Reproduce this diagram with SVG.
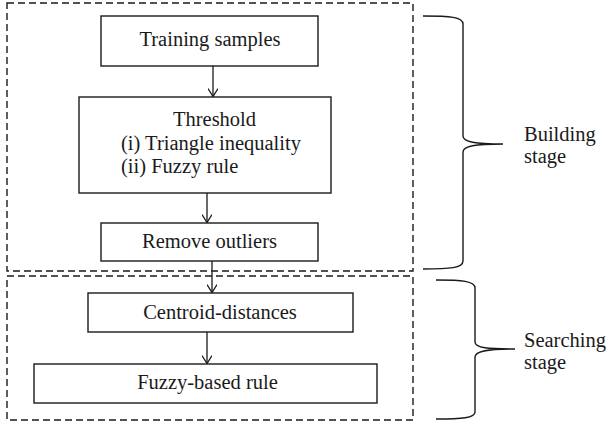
<svg xmlns="http://www.w3.org/2000/svg" width="608" height="426" viewBox="0 0 608 426">
  <style>
    .box { fill: #ffffff; stroke: #1a1a1a; stroke-width: 1.4; }
    .stage { fill: none; stroke: #1a1a1a; stroke-width: 1.4; stroke-dasharray: 7 4; }
    .edge { fill: none; stroke: #1a1a1a; stroke-width: 1.3; }
    .brace { fill: none; stroke: #1a1a1a; stroke-width: 1.4; }
    text { font-family: "Liberation Serif", "Times New Roman", serif; font-size: 20.5px; fill: #1a1a1a; }
    .c { text-anchor: middle; }
  </style>
  <defs>
    <marker id="arrow" viewBox="0 0 14 10" refX="13" refY="5" markerWidth="14" markerHeight="10" markerUnits="userSpaceOnUse" orient="auto">
      <path d="M5,0 L13,5 L5,10" fill="none" stroke="#1a1a1a" stroke-width="1.3"/>
    </marker>
  </defs>

  <!-- stage frames -->
  <g id="building-frame">
    <rect class="stage" x="7" y="3" width="406" height="268"/>
  </g>
  <g id="searching-frame">
    <rect class="stage" x="7" y="276" width="406" height="144"/>
  </g>

  <!-- connectors -->
  <g id="connectors">
    <line class="edge" x1="213" y1="66" x2="213" y2="96.5" marker-end="url(#arrow)"/>
    <line class="edge" x1="207" y1="193" x2="207" y2="222.5" marker-end="url(#arrow)"/>
    <line class="edge" x1="212" y1="261" x2="212" y2="292.5" marker-end="url(#arrow)"/>
    <line class="edge" x1="207" y1="332" x2="207" y2="363.5" marker-end="url(#arrow)"/>
  </g>

  <!-- nodes -->
  <g id="training-samples">
    <rect class="box" x="101" y="16" width="217" height="50"/>
    <text class="c" x="210" y="46">Training samples</text>
  </g>
  <g id="threshold">
    <rect class="box" x="79" y="97" width="252" height="96"/>
    <text class="c" x="214.5" y="126">Threshold</text>
    <text x="121" y="149.5">(i) Triangle inequality</text>
    <text x="121" y="172.5">(ii) Fuzzy rule</text>
  </g>
  <g id="remove-outliers">
    <rect class="box" x="101" y="223" width="217" height="38"/>
    <text class="c" x="209.5" y="247.5">Remove outliers</text>
  </g>
  <g id="centroid-distances">
    <rect class="box" x="88" y="293" width="265" height="39"/>
    <text class="c" x="220" y="318.5">Centroid-distances</text>
  </g>
  <g id="fuzzy-based-rule">
    <rect class="box" x="34" y="364" width="343" height="39"/>
    <text class="c" x="207.5" y="388.5">Fuzzy-based rule</text>
  </g>

  <!-- stage braces and labels -->
  <g id="building-stage">
    <path class="brace" d="M423,16 C450,16 463,17 463,24 L463,136 C463,142 475,144 503,144 C475,144 463,146 463,152 L463,261 C463,268 450,269 423,269"/>
    <text x="524" y="141">Building</text>
    <text x="524" y="163">stage</text>
  </g>
  <g id="searching-stage">
    <path class="brace" d="M436,280 C462,280 475,281 475,288 L475,342 C475,348 488,349 515,349 C488,349 475,351 475,357 L475,412 C475,418 462,419 436,419"/>
    <text x="524" y="347">Searching</text>
    <text x="524" y="369">stage</text>
  </g>
</svg>
